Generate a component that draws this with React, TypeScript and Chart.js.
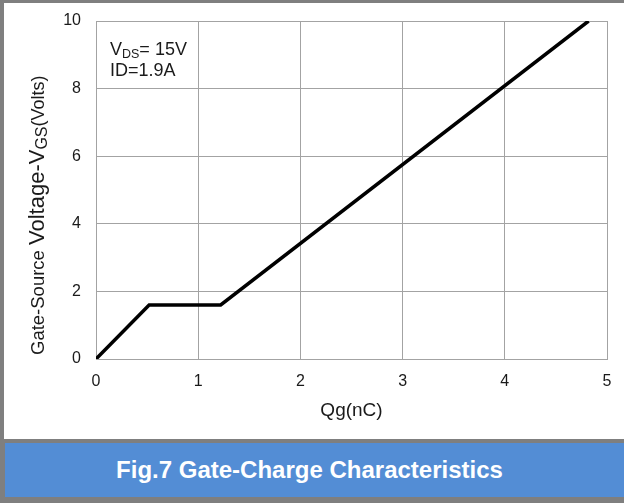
import React, { useEffect, useRef } from "react";
import { Chart, registerables } from "chart.js";

Chart.register(...registerables);

// ---- data ----
const qgValues: number[] = [0, 0.52, 1.22, 4.82];
const vgsValues: number[] = [0, 1.6, 1.6, 10];
const xTickValues: number[] = [0, 1, 2, 3, 4, 5];
const yTickValues: number[] = [0, 2, 4, 6, 8, 10];
const xAxisTitle = "Qg(nC)";
const yTitleRuns = [
  { text: "Gate-Source ", size: 18.5, dy: 0 },
  { text: "Voltage-V", size: 22, dy: 0 },
  { text: "GS", size: 16, dy: 3 },
  { text: "(Volts)", size: 18, dy: 0 },
];
const noteLine1 = [
  { text: "V", size: 18, dy: 0 },
  { text: "DS", size: 12.5, dy: 3 },
  { text: "= 15V", size: 18, dy: 0 },
];
const noteLine2 = [{ text: "ID=1.9A", size: 18, dy: 0 }];
const caption = "Fig.7 Gate-Charge Characteristics";

const FONT = "'Liberation Sans', Arial, sans-serif";
const TEXT = "#1a1a1a";
const GRID = "#a3a3a3";

function drawRuns(ctx: CanvasRenderingContext2D, runs: { text: string; size: number; dy: number }[], x0: number, y0: number) {
  let x = x0;
  for (const r of runs) {
    ctx.font = `${r.size}px ${FONT}`;
    ctx.fillText(r.text, x, y0 + r.dy);
    x += ctx.measureText(r.text).width;
  }
}

const textPlugin = {
  id: "customText",
  afterDraw(chart: any) {
    const ctx: CanvasRenderingContext2D = chart.ctx;
    const area = chart.chartArea;
    ctx.save();
    ctx.fillStyle = TEXT;
    ctx.textAlign = "left";
    ctx.textBaseline = "alphabetic";
    // annotation
    drawRuns(ctx, noteLine1, area.left + 14, area.top + 34);
    drawRuns(ctx, noteLine2, area.left + 14, area.top + 55);
    // rotated y title
    ctx.translate(40, area.bottom - 4);
    ctx.rotate(-Math.PI / 2);
    drawRuns(ctx, yTitleRuns, 0, 0);
    ctx.restore();
  },
};

function GateChargeChart() {
  const ref = useRef<HTMLCanvasElement | null>(null);
  useEffect(() => {
    if (!ref.current) return;
    const points = qgValues.map((q, i) => ({ x: q, y: vgsValues[i] }));
    const chart = new Chart(ref.current, {
      type: "line",
      data: {
        datasets: [
          {
            data: points,
            borderColor: "#000000",
            borderWidth: 3.5,
            pointRadius: 0,
            tension: 0,
            fill: false,
          },
        ],
      },
      options: {
        animation: false,
        responsive: false,
        maintainAspectRatio: false,
        layout: { padding: { left: 0, right: 17, top: 18, bottom: 0 } },
        plugins: { legend: { display: false }, tooltip: { enabled: false }, title: { display: false } },
        scales: {
          x: {
            type: "linear",
            min: 0,
            max: 5,
            afterBuildTicks: (scale: any) => {
              scale.ticks = xTickValues.map((v) => ({ value: v }));
            },
            afterFit: (scale: any) => {
              scale.height = 80;
              scale.paddingLeft = 0;
              scale.paddingRight = 0;
            },
            grid: { color: GRID, lineWidth: 1, drawTicks: false },
            border: { color: GRID, width: 1 },
            ticks: { color: TEXT, font: { family: FONT, size: 16 }, padding: 13, maxRotation: 0 },
            title: {
              display: true,
              text: xAxisTitle,
              color: TEXT,
              font: { family: FONT, size: 19 },
              padding: { top: 0, bottom: 17 },
            },
          },
          y: {
            type: "linear",
            min: 0,
            max: 10,
            afterBuildTicks: (scale: any) => {
              scale.ticks = yTickValues.map((v) => ({ value: v }));
            },
            afterFit: (scale: any) => {
              scale.width = 92;
              scale.paddingTop = 0;
              scale.paddingBottom = 0;
            },
            grid: { color: GRID, lineWidth: 1, drawTicks: false },
            border: { color: GRID, width: 1 },
            ticks: { color: TEXT, font: { family: FONT, size: 16 }, padding: 15 },
          },
        },
      },
      plugins: [textPlugin],
    } as any);
    return () => chart.destroy();
  }, []);
  return <canvas ref={ref} width={620} height={436} style={{ display: "block" }} />;
}

export default function App() {
  return (
    <div style={{ position: "absolute", left: 0, top: 0, width: 624, height: 503, background: "#7f7f7f", overflow: "hidden" }}>
      <div style={{ position: "absolute", left: 4, top: 3, width: 620, height: 436, background: "#ffffff" }}>
        <GateChargeChart />
      </div>
      <div
        style={{
          position: "absolute",
          left: 5,
          top: 443,
          width: 609,
          paddingRight: 10,
          height: 54,
          background: "#538dd5",
          color: "#ffffff",
          fontFamily: FONT,
          fontWeight: "bold",
          fontSize: 24,
          lineHeight: "54px",
          textAlign: "center",
        }}
      >
        {caption}
      </div>
    </div>
  );
}
